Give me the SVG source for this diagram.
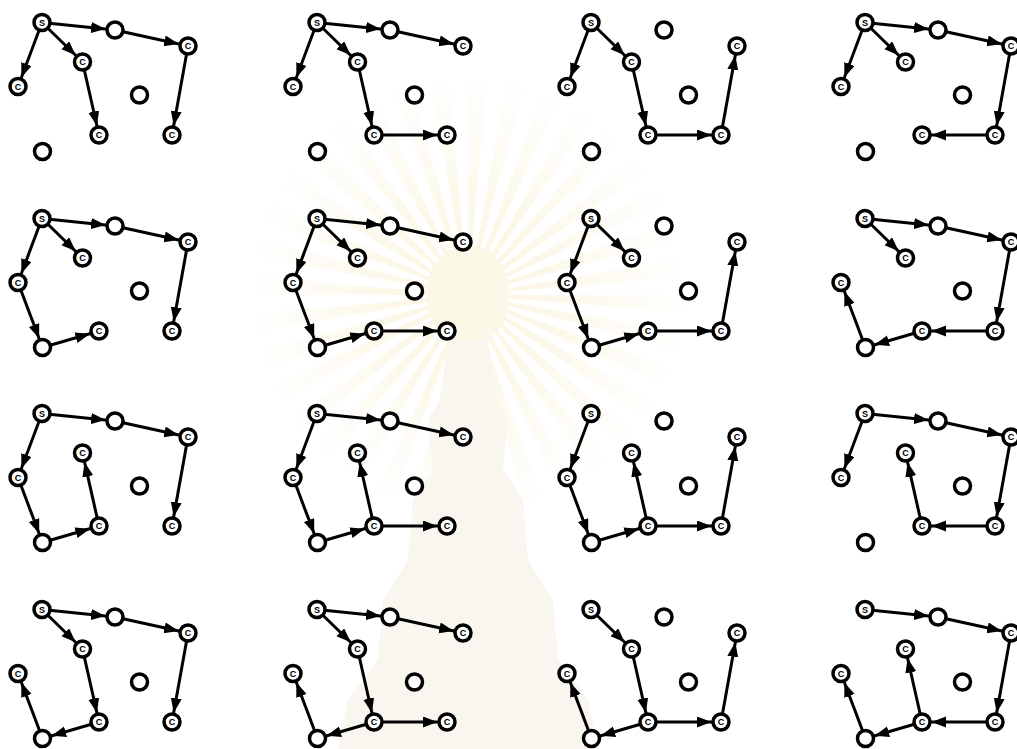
<svg xmlns="http://www.w3.org/2000/svg" width="1017" height="749" viewBox="0 0 1017 749">
<style>
.n{fill:#fff;stroke:#000;stroke-width:3.5}
.t{font-family:"Liberation Sans",Arial,sans-serif;font-size:9px;font-weight:bold;text-anchor:middle;fill:#000}
.e line{stroke:#000;stroke-width:3;marker-end:url(#ah)}
</style>
<defs>
<marker id="ah" markerUnits="userSpaceOnUse" markerWidth="26" markerHeight="12" refX="24" refY="5.5" orient="auto">
<path d="M0,0 L14.5,5.5 L0,11 Z" fill="#000"/>
</marker>
<radialGradient id="rayg" gradientUnits="userSpaceOnUse" cx="468" cy="295" r="220">
<stop offset="0" stop-color="#f6e7b0"/>
<stop offset="0.45" stop-color="#faf0cf"/>
<stop offset="1" stop-color="#ffffff"/>
</radialGradient>
</defs>
<rect width="1017" height="749" fill="#fff"/>

<g id="watermark" opacity="0.4">
<circle cx="468" cy="295" r="110" fill="none" stroke="url(#rayg)" stroke-width="210" stroke-dasharray="9 10.2"/>
<ellipse cx="468" cy="295" rx="42" ry="50" fill="#f8eec8"/>
<path d="M448,340 L488,340 L496,400 L508,420 L503,470 L523,500 L528,560 L553,600 L558,660 L588,700 L598,749 L338,749 L348,700 L378,660 L383,600 L408,560 L413,500 L433,470 L428,420 L440,400 Z" fill="#efe9d6"/>
</g>

<!-- Row 1 Col 1 -->
<g id="p-r1c1" transform="translate(0,0)">
<g class="e" id="r1c1-edges">
<line x1="42" y1="22.5" x2="115" y2="30"/><line x1="115" y1="30" x2="188" y2="46"/><line x1="188" y1="46" x2="172" y2="135"/><line x1="42" y1="22.5" x2="18" y2="86.5"/><line x1="42" y1="22.5" x2="82.5" y2="62"/><line x1="82.5" y1="62" x2="99" y2="135"/>
</g>
<g id="r1c1-S"><circle class="n" cx="42" cy="22.5" r="8"/><text class="t" x="42" y="25.7">S</text></g>
<g id="r1c1-A"><circle class="n" cx="115" cy="30" r="8"/></g>
<g id="r1c1-B"><circle class="n" cx="188" cy="46" r="8"/><text class="t" x="188" y="49.2">C</text></g>
<g id="r1c1-D"><circle class="n" cx="18" cy="86.5" r="8"/><text class="t" x="18" y="89.7">C</text></g>
<g id="r1c1-E"><circle class="n" cx="82.5" cy="62" r="8"/><text class="t" x="82.5" y="65.2">C</text></g>
<g id="r1c1-F"><circle class="n" cx="139.5" cy="95" r="8"/></g>
<g id="r1c1-G"><circle class="n" cx="99" cy="135" r="8"/><text class="t" x="99" y="138.2">C</text></g>
<g id="r1c1-H"><circle class="n" cx="172" cy="135" r="8"/><text class="t" x="172" y="138.2">C</text></g>
<g id="r1c1-I"><circle class="n" cx="42.5" cy="151.5" r="8"/></g>
</g>

<!-- Row 1 Col 2 -->
<g id="p-r1c2" transform="translate(275,0)">
<g class="e" id="r1c2-edges">
<line x1="42" y1="22.5" x2="115" y2="30"/><line x1="115" y1="30" x2="188" y2="46"/><line x1="42" y1="22.5" x2="18" y2="86.5"/><line x1="42" y1="22.5" x2="82.5" y2="62"/><line x1="82.5" y1="62" x2="99" y2="135"/><line x1="99" y1="135" x2="172" y2="135"/>
</g>
<g id="r1c2-S"><circle class="n" cx="42" cy="22.5" r="8"/><text class="t" x="42" y="25.7">S</text></g>
<g id="r1c2-A"><circle class="n" cx="115" cy="30" r="8"/></g>
<g id="r1c2-B"><circle class="n" cx="188" cy="46" r="8"/><text class="t" x="188" y="49.2">C</text></g>
<g id="r1c2-D"><circle class="n" cx="18" cy="86.5" r="8"/><text class="t" x="18" y="89.7">C</text></g>
<g id="r1c2-E"><circle class="n" cx="82.5" cy="62" r="8"/><text class="t" x="82.5" y="65.2">C</text></g>
<g id="r1c2-F"><circle class="n" cx="139.5" cy="95" r="8"/></g>
<g id="r1c2-G"><circle class="n" cx="99" cy="135" r="8"/><text class="t" x="99" y="138.2">C</text></g>
<g id="r1c2-H"><circle class="n" cx="172" cy="135" r="8"/><text class="t" x="172" y="138.2">C</text></g>
<g id="r1c2-I"><circle class="n" cx="42.5" cy="151.5" r="8"/></g>
</g>

<!-- Row 1 Col 3 -->
<g id="p-r1c3" transform="translate(549,0)">
<g class="e" id="r1c3-edges">
<line x1="42" y1="22.5" x2="18" y2="86.5"/><line x1="42" y1="22.5" x2="82.5" y2="62"/><line x1="82.5" y1="62" x2="99" y2="135"/><line x1="99" y1="135" x2="172" y2="135"/><line x1="172" y1="135" x2="188" y2="46"/>
</g>
<g id="r1c3-S"><circle class="n" cx="42" cy="22.5" r="8"/><text class="t" x="42" y="25.7">S</text></g>
<g id="r1c3-A"><circle class="n" cx="115" cy="30" r="8"/></g>
<g id="r1c3-B"><circle class="n" cx="188" cy="46" r="8"/><text class="t" x="188" y="49.2">C</text></g>
<g id="r1c3-D"><circle class="n" cx="18" cy="86.5" r="8"/><text class="t" x="18" y="89.7">C</text></g>
<g id="r1c3-E"><circle class="n" cx="82.5" cy="62" r="8"/><text class="t" x="82.5" y="65.2">C</text></g>
<g id="r1c3-F"><circle class="n" cx="139.5" cy="95" r="8"/></g>
<g id="r1c3-G"><circle class="n" cx="99" cy="135" r="8"/><text class="t" x="99" y="138.2">C</text></g>
<g id="r1c3-H"><circle class="n" cx="172" cy="135" r="8"/><text class="t" x="172" y="138.2">C</text></g>
<g id="r1c3-I"><circle class="n" cx="42.5" cy="151.5" r="8"/></g>
</g>

<!-- Row 1 Col 4 -->
<g id="p-r1c4" transform="translate(823,0)">
<g class="e" id="r1c4-edges">
<line x1="42" y1="22.5" x2="115" y2="30"/><line x1="115" y1="30" x2="188" y2="46"/><line x1="42" y1="22.5" x2="18" y2="86.5"/><line x1="42" y1="22.5" x2="82.5" y2="62"/><line x1="188" y1="46" x2="172" y2="135"/><line x1="172" y1="135" x2="99" y2="135"/>
</g>
<g id="r1c4-S"><circle class="n" cx="42" cy="22.5" r="8"/><text class="t" x="42" y="25.7">S</text></g>
<g id="r1c4-A"><circle class="n" cx="115" cy="30" r="8"/></g>
<g id="r1c4-B"><circle class="n" cx="188" cy="46" r="8"/><text class="t" x="188" y="49.2">C</text></g>
<g id="r1c4-D"><circle class="n" cx="18" cy="86.5" r="8"/><text class="t" x="18" y="89.7">C</text></g>
<g id="r1c4-E"><circle class="n" cx="82.5" cy="62" r="8"/><text class="t" x="82.5" y="65.2">C</text></g>
<g id="r1c4-F"><circle class="n" cx="139.5" cy="95" r="8"/></g>
<g id="r1c4-G"><circle class="n" cx="99" cy="135" r="8"/><text class="t" x="99" y="138.2">C</text></g>
<g id="r1c4-H"><circle class="n" cx="172" cy="135" r="8"/><text class="t" x="172" y="138.2">C</text></g>
<g id="r1c4-I"><circle class="n" cx="42.5" cy="151.5" r="8"/></g>
</g>

<!-- Row 2 Col 1 -->
<g id="p-r2c1" transform="translate(0,196)">
<g class="e" id="r2c1-edges">
<line x1="42" y1="22.5" x2="115" y2="30"/><line x1="115" y1="30" x2="188" y2="46"/><line x1="188" y1="46" x2="172" y2="135"/><line x1="42" y1="22.5" x2="82.5" y2="62"/><line x1="42" y1="22.5" x2="18" y2="86.5"/><line x1="18" y1="86.5" x2="42.5" y2="151.5"/><line x1="42.5" y1="151.5" x2="99" y2="135"/>
</g>
<g id="r2c1-S"><circle class="n" cx="42" cy="22.5" r="8"/><text class="t" x="42" y="25.7">S</text></g>
<g id="r2c1-A"><circle class="n" cx="115" cy="30" r="8"/></g>
<g id="r2c1-B"><circle class="n" cx="188" cy="46" r="8"/><text class="t" x="188" y="49.2">C</text></g>
<g id="r2c1-D"><circle class="n" cx="18" cy="86.5" r="8"/><text class="t" x="18" y="89.7">C</text></g>
<g id="r2c1-E"><circle class="n" cx="82.5" cy="62" r="8"/><text class="t" x="82.5" y="65.2">C</text></g>
<g id="r2c1-F"><circle class="n" cx="139.5" cy="95" r="8"/></g>
<g id="r2c1-G"><circle class="n" cx="99" cy="135" r="8"/><text class="t" x="99" y="138.2">C</text></g>
<g id="r2c1-H"><circle class="n" cx="172" cy="135" r="8"/><text class="t" x="172" y="138.2">C</text></g>
<g id="r2c1-I"><circle class="n" cx="42.5" cy="151.5" r="8"/></g>
</g>

<!-- Row 2 Col 2 -->
<g id="p-r2c2" transform="translate(275,196)">
<g class="e" id="r2c2-edges">
<line x1="42" y1="22.5" x2="115" y2="30"/><line x1="115" y1="30" x2="188" y2="46"/><line x1="42" y1="22.5" x2="82.5" y2="62"/><line x1="42" y1="22.5" x2="18" y2="86.5"/><line x1="18" y1="86.5" x2="42.5" y2="151.5"/><line x1="42.5" y1="151.5" x2="99" y2="135"/><line x1="99" y1="135" x2="172" y2="135"/>
</g>
<g id="r2c2-S"><circle class="n" cx="42" cy="22.5" r="8"/><text class="t" x="42" y="25.7">S</text></g>
<g id="r2c2-A"><circle class="n" cx="115" cy="30" r="8"/></g>
<g id="r2c2-B"><circle class="n" cx="188" cy="46" r="8"/><text class="t" x="188" y="49.2">C</text></g>
<g id="r2c2-D"><circle class="n" cx="18" cy="86.5" r="8"/><text class="t" x="18" y="89.7">C</text></g>
<g id="r2c2-E"><circle class="n" cx="82.5" cy="62" r="8"/><text class="t" x="82.5" y="65.2">C</text></g>
<g id="r2c2-F"><circle class="n" cx="139.5" cy="95" r="8"/></g>
<g id="r2c2-G"><circle class="n" cx="99" cy="135" r="8"/><text class="t" x="99" y="138.2">C</text></g>
<g id="r2c2-H"><circle class="n" cx="172" cy="135" r="8"/><text class="t" x="172" y="138.2">C</text></g>
<g id="r2c2-I"><circle class="n" cx="42.5" cy="151.5" r="8"/></g>
</g>

<!-- Row 2 Col 3 -->
<g id="p-r2c3" transform="translate(549,196)">
<g class="e" id="r2c3-edges">
<line x1="42" y1="22.5" x2="18" y2="86.5"/><line x1="42" y1="22.5" x2="82.5" y2="62"/><line x1="18" y1="86.5" x2="42.5" y2="151.5"/><line x1="42.5" y1="151.5" x2="99" y2="135"/><line x1="99" y1="135" x2="172" y2="135"/><line x1="172" y1="135" x2="188" y2="46"/>
</g>
<g id="r2c3-S"><circle class="n" cx="42" cy="22.5" r="8"/><text class="t" x="42" y="25.7">S</text></g>
<g id="r2c3-A"><circle class="n" cx="115" cy="30" r="8"/></g>
<g id="r2c3-B"><circle class="n" cx="188" cy="46" r="8"/><text class="t" x="188" y="49.2">C</text></g>
<g id="r2c3-D"><circle class="n" cx="18" cy="86.5" r="8"/><text class="t" x="18" y="89.7">C</text></g>
<g id="r2c3-E"><circle class="n" cx="82.5" cy="62" r="8"/><text class="t" x="82.5" y="65.2">C</text></g>
<g id="r2c3-F"><circle class="n" cx="139.5" cy="95" r="8"/></g>
<g id="r2c3-G"><circle class="n" cx="99" cy="135" r="8"/><text class="t" x="99" y="138.2">C</text></g>
<g id="r2c3-H"><circle class="n" cx="172" cy="135" r="8"/><text class="t" x="172" y="138.2">C</text></g>
<g id="r2c3-I"><circle class="n" cx="42.5" cy="151.5" r="8"/></g>
</g>

<!-- Row 2 Col 4 -->
<g id="p-r2c4" transform="translate(823,196)">
<g class="e" id="r2c4-edges">
<line x1="42" y1="22.5" x2="115" y2="30"/><line x1="115" y1="30" x2="188" y2="46"/><line x1="42" y1="22.5" x2="82.5" y2="62"/><line x1="188" y1="46" x2="172" y2="135"/><line x1="172" y1="135" x2="99" y2="135"/><line x1="99" y1="135" x2="42.5" y2="151.5"/><line x1="42.5" y1="151.5" x2="18" y2="86.5"/>
</g>
<g id="r2c4-S"><circle class="n" cx="42" cy="22.5" r="8"/><text class="t" x="42" y="25.7">S</text></g>
<g id="r2c4-A"><circle class="n" cx="115" cy="30" r="8"/></g>
<g id="r2c4-B"><circle class="n" cx="188" cy="46" r="8"/><text class="t" x="188" y="49.2">C</text></g>
<g id="r2c4-D"><circle class="n" cx="18" cy="86.5" r="8"/><text class="t" x="18" y="89.7">C</text></g>
<g id="r2c4-E"><circle class="n" cx="82.5" cy="62" r="8"/><text class="t" x="82.5" y="65.2">C</text></g>
<g id="r2c4-F"><circle class="n" cx="139.5" cy="95" r="8"/></g>
<g id="r2c4-G"><circle class="n" cx="99" cy="135" r="8"/><text class="t" x="99" y="138.2">C</text></g>
<g id="r2c4-H"><circle class="n" cx="172" cy="135" r="8"/><text class="t" x="172" y="138.2">C</text></g>
<g id="r2c4-I"><circle class="n" cx="42.5" cy="151.5" r="8"/></g>
</g>

<!-- Row 3 Col 1 -->
<g id="p-r3c1" transform="translate(0,391)">
<g class="e" id="r3c1-edges">
<line x1="42" y1="22.5" x2="115" y2="30"/><line x1="115" y1="30" x2="188" y2="46"/><line x1="188" y1="46" x2="172" y2="135"/><line x1="42" y1="22.5" x2="18" y2="86.5"/><line x1="18" y1="86.5" x2="42.5" y2="151.5"/><line x1="42.5" y1="151.5" x2="99" y2="135"/><line x1="99" y1="135" x2="82.5" y2="62"/>
</g>
<g id="r3c1-S"><circle class="n" cx="42" cy="22.5" r="8"/><text class="t" x="42" y="25.7">S</text></g>
<g id="r3c1-A"><circle class="n" cx="115" cy="30" r="8"/></g>
<g id="r3c1-B"><circle class="n" cx="188" cy="46" r="8"/><text class="t" x="188" y="49.2">C</text></g>
<g id="r3c1-D"><circle class="n" cx="18" cy="86.5" r="8"/><text class="t" x="18" y="89.7">C</text></g>
<g id="r3c1-E"><circle class="n" cx="82.5" cy="62" r="8"/><text class="t" x="82.5" y="65.2">C</text></g>
<g id="r3c1-F"><circle class="n" cx="139.5" cy="95" r="8"/></g>
<g id="r3c1-G"><circle class="n" cx="99" cy="135" r="8"/><text class="t" x="99" y="138.2">C</text></g>
<g id="r3c1-H"><circle class="n" cx="172" cy="135" r="8"/><text class="t" x="172" y="138.2">C</text></g>
<g id="r3c1-I"><circle class="n" cx="42.5" cy="151.5" r="8"/></g>
</g>

<!-- Row 3 Col 2 -->
<g id="p-r3c2" transform="translate(275,391)">
<g class="e" id="r3c2-edges">
<line x1="42" y1="22.5" x2="115" y2="30"/><line x1="115" y1="30" x2="188" y2="46"/><line x1="42" y1="22.5" x2="18" y2="86.5"/><line x1="18" y1="86.5" x2="42.5" y2="151.5"/><line x1="42.5" y1="151.5" x2="99" y2="135"/><line x1="99" y1="135" x2="82.5" y2="62"/><line x1="99" y1="135" x2="172" y2="135"/>
</g>
<g id="r3c2-S"><circle class="n" cx="42" cy="22.5" r="8"/><text class="t" x="42" y="25.7">S</text></g>
<g id="r3c2-A"><circle class="n" cx="115" cy="30" r="8"/></g>
<g id="r3c2-B"><circle class="n" cx="188" cy="46" r="8"/><text class="t" x="188" y="49.2">C</text></g>
<g id="r3c2-D"><circle class="n" cx="18" cy="86.5" r="8"/><text class="t" x="18" y="89.7">C</text></g>
<g id="r3c2-E"><circle class="n" cx="82.5" cy="62" r="8"/><text class="t" x="82.5" y="65.2">C</text></g>
<g id="r3c2-F"><circle class="n" cx="139.5" cy="95" r="8"/></g>
<g id="r3c2-G"><circle class="n" cx="99" cy="135" r="8"/><text class="t" x="99" y="138.2">C</text></g>
<g id="r3c2-H"><circle class="n" cx="172" cy="135" r="8"/><text class="t" x="172" y="138.2">C</text></g>
<g id="r3c2-I"><circle class="n" cx="42.5" cy="151.5" r="8"/></g>
</g>

<!-- Row 3 Col 3 -->
<g id="p-r3c3" transform="translate(549,391)">
<g class="e" id="r3c3-edges">
<line x1="42" y1="22.5" x2="18" y2="86.5"/><line x1="18" y1="86.5" x2="42.5" y2="151.5"/><line x1="42.5" y1="151.5" x2="99" y2="135"/><line x1="99" y1="135" x2="82.5" y2="62"/><line x1="99" y1="135" x2="172" y2="135"/><line x1="172" y1="135" x2="188" y2="46"/>
</g>
<g id="r3c3-S"><circle class="n" cx="42" cy="22.5" r="8"/><text class="t" x="42" y="25.7">S</text></g>
<g id="r3c3-A"><circle class="n" cx="115" cy="30" r="8"/></g>
<g id="r3c3-B"><circle class="n" cx="188" cy="46" r="8"/><text class="t" x="188" y="49.2">C</text></g>
<g id="r3c3-D"><circle class="n" cx="18" cy="86.5" r="8"/><text class="t" x="18" y="89.7">C</text></g>
<g id="r3c3-E"><circle class="n" cx="82.5" cy="62" r="8"/><text class="t" x="82.5" y="65.2">C</text></g>
<g id="r3c3-F"><circle class="n" cx="139.5" cy="95" r="8"/></g>
<g id="r3c3-G"><circle class="n" cx="99" cy="135" r="8"/><text class="t" x="99" y="138.2">C</text></g>
<g id="r3c3-H"><circle class="n" cx="172" cy="135" r="8"/><text class="t" x="172" y="138.2">C</text></g>
<g id="r3c3-I"><circle class="n" cx="42.5" cy="151.5" r="8"/></g>
</g>

<!-- Row 3 Col 4 -->
<g id="p-r3c4" transform="translate(823,391)">
<g class="e" id="r3c4-edges">
<line x1="42" y1="22.5" x2="115" y2="30"/><line x1="115" y1="30" x2="188" y2="46"/><line x1="42" y1="22.5" x2="18" y2="86.5"/><line x1="188" y1="46" x2="172" y2="135"/><line x1="172" y1="135" x2="99" y2="135"/><line x1="99" y1="135" x2="82.5" y2="62"/>
</g>
<g id="r3c4-S"><circle class="n" cx="42" cy="22.5" r="8"/><text class="t" x="42" y="25.7">S</text></g>
<g id="r3c4-A"><circle class="n" cx="115" cy="30" r="8"/></g>
<g id="r3c4-B"><circle class="n" cx="188" cy="46" r="8"/><text class="t" x="188" y="49.2">C</text></g>
<g id="r3c4-D"><circle class="n" cx="18" cy="86.5" r="8"/><text class="t" x="18" y="89.7">C</text></g>
<g id="r3c4-E"><circle class="n" cx="82.5" cy="62" r="8"/><text class="t" x="82.5" y="65.2">C</text></g>
<g id="r3c4-F"><circle class="n" cx="139.5" cy="95" r="8"/></g>
<g id="r3c4-G"><circle class="n" cx="99" cy="135" r="8"/><text class="t" x="99" y="138.2">C</text></g>
<g id="r3c4-H"><circle class="n" cx="172" cy="135" r="8"/><text class="t" x="172" y="138.2">C</text></g>
<g id="r3c4-I"><circle class="n" cx="42.5" cy="151.5" r="8"/></g>
</g>

<!-- Row 4 Col 1 -->
<g id="p-r4c1" transform="translate(0,587)">
<g class="e" id="r4c1-edges">
<line x1="42" y1="22.5" x2="115" y2="30"/><line x1="115" y1="30" x2="188" y2="46"/><line x1="188" y1="46" x2="172" y2="135"/><line x1="42" y1="22.5" x2="82.5" y2="62"/><line x1="82.5" y1="62" x2="99" y2="135"/><line x1="99" y1="135" x2="42.5" y2="151.5"/><line x1="42.5" y1="151.5" x2="18" y2="86.5"/>
</g>
<g id="r4c1-S"><circle class="n" cx="42" cy="22.5" r="8"/><text class="t" x="42" y="25.7">S</text></g>
<g id="r4c1-A"><circle class="n" cx="115" cy="30" r="8"/></g>
<g id="r4c1-B"><circle class="n" cx="188" cy="46" r="8"/><text class="t" x="188" y="49.2">C</text></g>
<g id="r4c1-D"><circle class="n" cx="18" cy="86.5" r="8"/><text class="t" x="18" y="89.7">C</text></g>
<g id="r4c1-E"><circle class="n" cx="82.5" cy="62" r="8"/><text class="t" x="82.5" y="65.2">C</text></g>
<g id="r4c1-F"><circle class="n" cx="139.5" cy="95" r="8"/></g>
<g id="r4c1-G"><circle class="n" cx="99" cy="135" r="8"/><text class="t" x="99" y="138.2">C</text></g>
<g id="r4c1-H"><circle class="n" cx="172" cy="135" r="8"/><text class="t" x="172" y="138.2">C</text></g>
<g id="r4c1-I"><circle class="n" cx="42.5" cy="151.5" r="8"/></g>
</g>

<!-- Row 4 Col 2 -->
<g id="p-r4c2" transform="translate(275,587)">
<g class="e" id="r4c2-edges">
<line x1="42" y1="22.5" x2="115" y2="30"/><line x1="115" y1="30" x2="188" y2="46"/><line x1="42" y1="22.5" x2="82.5" y2="62"/><line x1="82.5" y1="62" x2="99" y2="135"/><line x1="99" y1="135" x2="172" y2="135"/><line x1="99" y1="135" x2="42.5" y2="151.5"/><line x1="42.5" y1="151.5" x2="18" y2="86.5"/>
</g>
<g id="r4c2-S"><circle class="n" cx="42" cy="22.5" r="8"/><text class="t" x="42" y="25.7">S</text></g>
<g id="r4c2-A"><circle class="n" cx="115" cy="30" r="8"/></g>
<g id="r4c2-B"><circle class="n" cx="188" cy="46" r="8"/><text class="t" x="188" y="49.2">C</text></g>
<g id="r4c2-D"><circle class="n" cx="18" cy="86.5" r="8"/><text class="t" x="18" y="89.7">C</text></g>
<g id="r4c2-E"><circle class="n" cx="82.5" cy="62" r="8"/><text class="t" x="82.5" y="65.2">C</text></g>
<g id="r4c2-F"><circle class="n" cx="139.5" cy="95" r="8"/></g>
<g id="r4c2-G"><circle class="n" cx="99" cy="135" r="8"/><text class="t" x="99" y="138.2">C</text></g>
<g id="r4c2-H"><circle class="n" cx="172" cy="135" r="8"/><text class="t" x="172" y="138.2">C</text></g>
<g id="r4c2-I"><circle class="n" cx="42.5" cy="151.5" r="8"/></g>
</g>

<!-- Row 4 Col 3 -->
<g id="p-r4c3" transform="translate(549,587)">
<g class="e" id="r4c3-edges">
<line x1="42" y1="22.5" x2="82.5" y2="62"/><line x1="82.5" y1="62" x2="99" y2="135"/><line x1="99" y1="135" x2="172" y2="135"/><line x1="172" y1="135" x2="188" y2="46"/><line x1="99" y1="135" x2="42.5" y2="151.5"/><line x1="42.5" y1="151.5" x2="18" y2="86.5"/>
</g>
<g id="r4c3-S"><circle class="n" cx="42" cy="22.5" r="8"/><text class="t" x="42" y="25.7">S</text></g>
<g id="r4c3-A"><circle class="n" cx="115" cy="30" r="8"/></g>
<g id="r4c3-B"><circle class="n" cx="188" cy="46" r="8"/><text class="t" x="188" y="49.2">C</text></g>
<g id="r4c3-D"><circle class="n" cx="18" cy="86.5" r="8"/><text class="t" x="18" y="89.7">C</text></g>
<g id="r4c3-E"><circle class="n" cx="82.5" cy="62" r="8"/><text class="t" x="82.5" y="65.2">C</text></g>
<g id="r4c3-F"><circle class="n" cx="139.5" cy="95" r="8"/></g>
<g id="r4c3-G"><circle class="n" cx="99" cy="135" r="8"/><text class="t" x="99" y="138.2">C</text></g>
<g id="r4c3-H"><circle class="n" cx="172" cy="135" r="8"/><text class="t" x="172" y="138.2">C</text></g>
<g id="r4c3-I"><circle class="n" cx="42.5" cy="151.5" r="8"/></g>
</g>

<!-- Row 4 Col 4 -->
<g id="p-r4c4" transform="translate(823,587)">
<g class="e" id="r4c4-edges">
<line x1="42" y1="22.5" x2="115" y2="30"/><line x1="115" y1="30" x2="188" y2="46"/><line x1="188" y1="46" x2="172" y2="135"/><line x1="172" y1="135" x2="99" y2="135"/><line x1="99" y1="135" x2="82.5" y2="62"/><line x1="99" y1="135" x2="42.5" y2="151.5"/><line x1="42.5" y1="151.5" x2="18" y2="86.5"/>
</g>
<g id="r4c4-S"><circle class="n" cx="42" cy="22.5" r="8"/><text class="t" x="42" y="25.7">S</text></g>
<g id="r4c4-A"><circle class="n" cx="115" cy="30" r="8"/></g>
<g id="r4c4-B"><circle class="n" cx="188" cy="46" r="8"/><text class="t" x="188" y="49.2">C</text></g>
<g id="r4c4-D"><circle class="n" cx="18" cy="86.5" r="8"/><text class="t" x="18" y="89.7">C</text></g>
<g id="r4c4-E"><circle class="n" cx="82.5" cy="62" r="8"/><text class="t" x="82.5" y="65.2">C</text></g>
<g id="r4c4-F"><circle class="n" cx="139.5" cy="95" r="8"/></g>
<g id="r4c4-G"><circle class="n" cx="99" cy="135" r="8"/><text class="t" x="99" y="138.2">C</text></g>
<g id="r4c4-H"><circle class="n" cx="172" cy="135" r="8"/><text class="t" x="172" y="138.2">C</text></g>
<g id="r4c4-I"><circle class="n" cx="42.5" cy="151.5" r="8"/></g>
</g>
</svg>
